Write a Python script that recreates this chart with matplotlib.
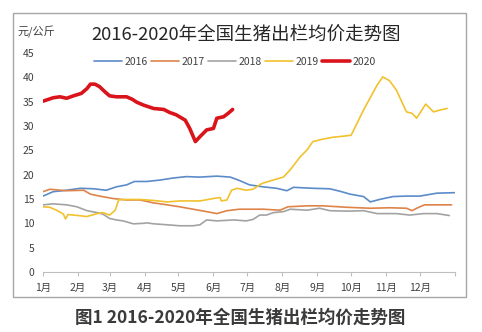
import matplotlib
matplotlib.use("Agg")
import matplotlib.pyplot as plt
from matplotlib.patches import Rectangle

plt.rcParams['font.family'] = ['Noto Sans CJK SC', 'DejaVu Sans']

# Day of year (0 = 1 Jan) and average hog price, 元/公斤
days_2016 = [0, 9, 21, 33, 45, 56, 65, 74, 81, 92, 104, 115, 127, 139, 154, 166, 174, 183,
             195, 207, 216, 222, 239, 254, 263, 272, 284, 290, 298, 310, 322, 334, 349, 365]
price_2016 = [15.6, 16.5, 16.8, 17.2, 17.1, 16.8, 17.5, 17.9, 18.6, 18.6, 18.9, 19.3, 19.6, 19.5,
              19.7, 19.5, 18.8, 17.9, 17.5, 17.2, 16.7, 17.4, 17.2, 17.1, 16.6, 16.0, 15.5, 14.4,
              14.9, 15.5, 15.6, 15.6, 16.2, 16.3]

days_2017 = [0, 6, 21, 36, 42, 50, 62, 74, 86, 98, 110, 121, 133, 145, 154, 163, 174, 195,
             210, 217, 234, 248, 269, 290, 307, 322, 327, 331, 338, 352, 362]
price_2017 = [16.5, 17.0, 16.7, 16.8, 16.0, 15.6, 15.1, 14.8, 14.8, 14.2, 13.8, 13.4, 12.9, 12.4,
              12.0, 12.6, 12.9, 12.9, 12.7, 13.4, 13.6, 13.6, 13.3, 13.1, 13.2, 13.1, 12.6, 13.1,
              13.8, 13.8, 13.8]

days_2018 = [0, 9, 21, 30, 39, 48, 53, 59, 65, 71, 80, 89, 92, 98, 110, 121, 133, 139, 145,
             154, 169, 180, 186, 192, 198, 204, 213, 219, 234, 245, 254, 269, 284, 296, 313,
             325, 337, 349, 360]
price_2018 = [13.8, 14.0, 13.8, 13.4, 12.6, 12.2, 11.9, 11.0, 10.7, 10.5, 9.9, 10.0, 10.1, 9.9,
              9.7, 9.5, 9.5, 9.7, 10.7, 10.5, 10.7, 10.5, 10.8, 11.7, 11.7, 12.2, 12.4, 12.9,
              12.7, 13.1, 12.6, 12.5, 12.6, 12.0, 12.0, 11.7, 12.0, 12.0, 11.6]

days_2019 = [0, 6, 12, 18, 20, 22, 27, 39, 48, 53, 59, 64, 67, 71, 86, 98, 110, 121, 139, 151,
             157, 158, 163, 167, 172, 180, 186, 194, 204, 213, 219, 228, 234, 239, 248, 257,
             266, 273, 284, 296, 301, 307, 313, 322, 327, 331, 339, 346, 352, 358]
price_2019 = [13.4, 13.3, 12.7, 11.9, 10.9, 11.8, 11.7, 11.4, 12.0, 12.2, 11.7, 12.7, 14.8,
              14.9, 14.9, 14.7, 14.4, 14.6, 14.6, 15.1, 15.3, 14.6, 14.8, 16.8, 17.2, 16.8, 17.0,
              18.2, 18.9, 19.5, 21.0, 23.7, 25.1, 26.8, 27.3, 27.7, 27.9, 28.1, 33.3, 38.4, 40.1,
              39.3, 37.4, 32.9, 32.6, 31.6, 34.5, 32.9, 33.3, 33.6]

days_2020 = [0, 9, 15, 21, 27, 34, 39, 42, 46, 50, 55, 59, 65, 74, 79, 83, 89, 98, 107, 112,
             118, 126, 130, 135, 139, 145, 151, 154, 160, 164, 168]
price_2020 = [35.1, 35.8, 36.0, 35.7, 36.2, 36.7, 37.7, 38.6, 38.6, 38.1, 37.0, 36.2, 36.0,
              36.0, 35.5, 34.9, 34.3, 33.6, 33.4, 32.8, 32.3, 31.2, 29.5, 26.8, 27.8, 29.2,
              29.5, 31.6, 31.9, 32.6, 33.4]

month_starts = [0, 31, 59, 90, 120, 151, 181, 212, 243, 273, 304, 334, 365]
month_labels = ['1月', '2月', '3月', '4月', '5月', '6月', '7月', '8月', '9月', '10月', '11月', '12月']
y_ticks = [0, 5, 10, 15, 20, 25, 30, 35, 40, 45]

series = [
    ('2016', days_2016, price_2016, '#5B8BC9', 1.2),
    ('2017', days_2017, price_2017, '#DE8449', 1.2),
    ('2018', days_2018, price_2018, '#A3A3A3', 1.2),
    ('2019', days_2019, price_2019, '#F2C12E', 1.2),
    ('2020', days_2020, price_2020, '#D9141A', 2.6),
]

W, H = 482, 332
fig = plt.figure(figsize=(W / 100, H / 100), dpi=100)
fig.patch.set_facecolor('white')

# Frame around the chart area
fig.add_artist(Rectangle((13 / W, 1 - 297 / H), (466 - 13) / W, (297 - 13) / H,
                         transform=fig.transFigure, fill=False,
                         edgecolor='#A6A6A6', linewidth=1.0))

ax = fig.add_axes([43 / W, 1 - 272 / H, (455 - 43) / W, (272 - 53) / H])
for name, d, p, c, lw in series:
    ax.plot(d, p, color=c, linewidth=lw, label=name, solid_capstyle='round')

ax.set_xlim(0, 365)
ax.set_ylim(0, 45)
ax.set_yticks(y_ticks)
ax.set_xticks(month_starts)
ax.set_xticklabels([])
for m, lab in zip(month_starts[:-1], month_labels):
    ax.text(m, -2.2, lab, ha='center', va='top', fontsize=7.5, color='#404040')
ax.tick_params(axis='y', length=0, labelsize=7.5, labelcolor='#404040', pad=6)
ax.tick_params(axis='x', length=3, color='#BFBFBF', width=0.8)
for s in ('top', 'right', 'left'):
    ax.spines[s].set_visible(False)
ax.spines['bottom'].set_color('#BFBFBF')
ax.spines['bottom'].set_linewidth(0.8)

leg = ax.legend(loc='center', bbox_to_anchor=(0.466, 0.959), ncol=5, frameon=False,
                fontsize=7.5, handlelength=2.7, handletextpad=0.25, columnspacing=0.3,
                borderaxespad=0)
for t in leg.get_texts():
    t.set_color('#404040')

fig.text(246 / W, 1 - 35 / H, '2016-2020年全国生猪出栏均价走势图', ha='center', va='center',
         fontsize=13.3, fontweight='light', color='#262626')
fig.text(18 / W, 1 - 32 / H, '元/公斤', ha='left', va='center', fontsize=8, color='#404040')
fig.text(240 / W, 1 - 318 / H, '图1 2016-2020年全国生猪出栏均价走势图', ha='center',
         va='center', fontsize=12.6, fontweight='bold', color='#3A3A3A')

fig.savefig('out.png', dpi=100, facecolor='white')
